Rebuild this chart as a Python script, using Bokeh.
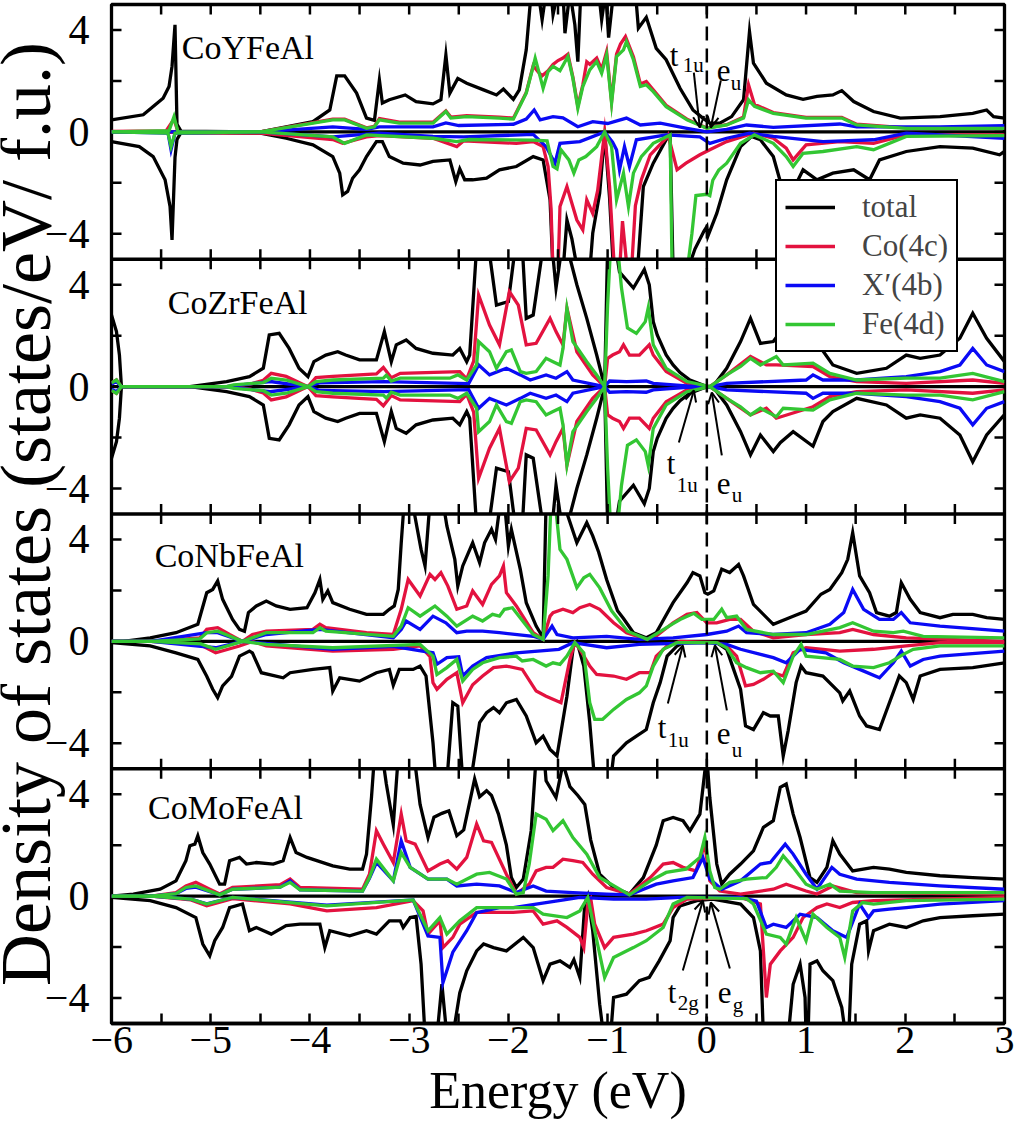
import numpy as np
from bokeh.plotting import figure
from bokeh.layouts import row
from bokeh.models import (FixedTicker, LinearAxis, Span, Legend, LegendItem,
                          Arrow, OpenHead)
from bokeh.core.properties import value
from bokeh.embed import file_html
from bokeh.resources import INLINE

# ---------------------------------------------------------------- data
COMPOUNDS = ["CoYFeAl", "CoZrFeAl", "CoNbFeAl", "CoMoFeAl"]
SERIES = ["total", "Co(4c)", "X\u2032(4b)", "Fe(4d)"]
COLORS = ["black", "#e3123f", "#0a0af5", "#33c633"]
ENERGY_TICKS = [-6, -5, -4, -3, -2, -1, 0, 1, 2, 3]
DOS_TICKS = [4, 0, -4]
DOS_MINOR = [2, -2]
Y_TITLE = "Density of states (states/eV/ f.u.)"
X_TITLE = "Energy (eV)"

# (energy eV, DOS) pairs; spin up positive, spin down negative
Y_TOT_UP = [(-6.0,0.47),(-5.68,0.67),(-5.58,1.0),(-5.48,1.32),(-5.42,1.78),(-5.39,2.57),(-5.36,4.2),(-5.34,0.3),(-5.3,0.03),(-4.5,0.0),(-4.24,0.2),(-3.97,0.4),(-3.8,0.86),(-3.73,2.2),(-3.65,2.2),(-3.53,1.52),(-3.43,0.54),(-3.35,0.45),(-3.30,2.04),(-3.27,1.13),(-3.2,1.26),(-3.04,1.45),(-2.93,1.19),(-2.76,1.1),(-2.68,1.26),(-2.63,3.02),(-2.59,1.52),(-2.51,2.1),(-2.42,1.91),(-2.25,1.65),(-2.12,1.45),(-2.05,1.68),(-1.95,1.28),(-1.89,1.65),(-1.82,3.22),(-1.77,5.5),(-1.70,5.5),(-1.66,4.4),(-1.62,5.5),(-1.57,5.5),(-1.55,4.6),(-1.50,5.5),(-1.45,5.5),(-1.43,3.87),(-1.38,5.5),(-1.33,4.2),(-1.30,2.76),(-1.27,5.5),(-1.09,5.5),(-1.06,4.4),(-1.02,5.5),(-0.99,3.7),(-0.94,5.5),(-0.72,5.5),(-0.69,4.07),(-0.61,4.5),(-0.51,3.28),(-0.41,2.83),(-0.27,1.71),(-0.14,0.86),(-0.04,0.54),(0.03,0.34),(0.13,0.34),(0.25,0.6),(0.37,1.26),(0.43,3.94),(0.47,2.7),(0.6,1.91),(0.8,1.45),(0.97,1.28),(1.11,1.39),(1.27,1.45),(1.36,1.62),(1.48,1.19),(1.68,0.8),(1.95,0.54),(2.35,0.6),(2.68,0.73),(2.82,0.86),(2.89,0.6),(3.0,0.54)]
Y_CO_UP = [(-6.0,0.02),(-5.45,0.04),(-5.37,0.5),(-5.33,0.0),(-4.5,0.0),(-3.77,0.5),(-3.65,0.5),(-3.43,0.16),(-3.35,0.22),(-3.3,0.52),(-3.1,0.38),(-2.76,0.38),(-2.63,0.82),(-2.58,0.58),(-2.42,0.64),(-2.09,0.58),(-1.95,0.54),(-1.82,1.55),(-1.75,2.6),(-1.7,2.35),(-1.66,2.2),(-1.6,2.4),(-1.55,2.65),(-1.5,2.8),(-1.45,2.9),(-1.4,3.05),(-1.35,2.15),(-1.3,1.0),(-1.25,1.85),(-1.21,2.75),(-1.18,2.65),(-1.11,2.9),(-1.06,2.45),(-1.01,3.15),(-0.96,1.2),(-0.91,3.05),(-0.87,3.45),(-0.82,3.74),(-0.78,3.35),(-0.74,2.95),(-0.67,1.88),(-0.61,1.98),(-0.54,1.65),(-0.41,1.04),(-0.2,0.5),(0.0,0.15),(0.2,0.28),(0.37,0.58),(0.42,1.85),(0.48,1.08),(0.67,0.76),(1.0,0.57),(1.36,0.57),(1.51,0.3),(2.01,0.16),(3.0,0.16)]
Y_X_UP = [(-6.0,0.0),(-4.5,0.0),(-3.77,0.2),(-3.43,0.1),(-3.3,0.2),(-2.76,0.2),(-2.63,0.35),(-2.5,0.25),(-1.95,0.3),(-1.82,0.5),(-1.74,0.86),(-1.68,0.47),(-1.55,0.6),(-1.45,0.55),(-1.3,0.2),(-1.15,0.4),(-1.0,0.33),(-0.81,0.54),(-0.67,0.27),(-0.47,0.34),(-0.2,0.14),(0.0,0.0),(0.2,0.1),(0.4,0.27),(0.67,0.18),(1.34,0.31),(1.51,0.2),(2.35,0.2),(3.0,0.24)]
Y_FE_UP = [(-6.0,0.0),(-5.42,0.05),(-5.37,0.6),(-5.33,0.0),(-4.5,0.0),(-3.77,0.47),(-3.65,0.47),(-3.43,0.14),(-3.35,0.2),(-3.3,0.47),(-3.1,0.34),(-2.76,0.34),(-2.63,0.8),(-2.58,0.54),(-2.42,0.6),(-2.09,0.54),(-1.95,0.5),(-1.82,1.52),(-1.75,2.57),(-1.73,2.89),(-1.68,2.17),(-1.65,1.71),(-1.6,2.37),(-1.55,2.57),(-1.48,2.4),(-1.4,2.96),(-1.35,2.1),(-1.3,0.93),(-1.25,1.78),(-1.18,2.43),(-1.11,2.76),(-1.06,2.3),(-1.01,3.02),(-0.96,1.13),(-0.91,2.96),(-0.84,3.22),(-0.81,3.55),(-0.74,2.83),(-0.67,1.78),(-0.61,1.85),(-0.54,1.58),(-0.41,0.99),(-0.2,0.47),(0.0,0.14),(0.2,0.27),(0.37,0.54),(0.42,1.26),(0.48,1.0),(0.67,0.73),(1.0,0.54),(1.36,0.54),(1.51,0.27),(2.01,0.14),(3.0,0.14)]
Y_TOT_DN = [(-6.0,-0.38),(-5.72,-0.58),(-5.58,-0.97),(-5.46,-1.88),(-5.41,-2.93),(-5.39,-4.24),(-5.36,-1.0),(-5.34,-0.3),(-5.3,-0.03),(-4.5,-0.05),(-4.24,-0.25),(-3.97,-0.51),(-3.77,-0.97),(-3.7,-1.62),(-3.67,-2.47),(-3.62,-2.34),(-3.57,-1.82),(-3.5,-1.49),(-3.43,-0.97),(-3.33,-0.38),(-3.27,-0.38),(-3.2,-0.97),(-3.06,-1.23),(-2.89,-1.3),(-2.76,-1.16),(-2.59,-1.1),(-2.53,-1.95),(-2.49,-1.45),(-2.44,-1.88),(-2.36,-1.88),(-2.22,-1.82),(-2.09,-1.49),(-1.92,-1.36),(-1.75,-0.97),(-1.65,-1.1),(-1.58,-2.67),(-1.55,-5.5),(-1.45,-5.5),(-1.41,-3.46),(-1.36,-4.2),(-1.3,-5.5),(-1.18,-5.5),(-1.15,-3.98),(-1.08,-2.41),(-1.03,-0.05),(-0.98,-2.6),(-0.94,-5.5),(-0.7,-5.5),(-0.64,-2.15),(-0.54,-1.23),(-0.41,-0.31),(-0.37,-0.12),(-0.34,-5.5),(-0.2,-5.5),(-0.12,-4.6),(-0.03,-3.9),(0.0,-3.72),(0.01,-4.1),(0.1,-3.2),(0.2,-1.88),(0.34,-0.58),(0.45,-0.18),(0.54,-0.31),(0.67,-0.97),(0.74,-1.95),(0.87,-2.28),(0.97,-1.49),(1.11,-1.88),(1.27,-1.62),(1.48,-1.49),(1.64,-1.88),(1.74,-1.1),(2.01,-0.77),(2.35,-0.58),(2.68,-0.64),(2.95,-0.9),(3.0,-0.77)]
Y_CO_DN = [(-6.0,0.0),(-4.5,-0.05),(-3.77,-0.3),(-3.67,-0.45),(-3.43,-0.2),(-3.3,-0.15),(-2.76,-0.25),(-2.52,-0.58),(-2.45,-0.35),(-1.92,-0.45),(-1.75,-0.38),(-1.65,-0.58),(-1.6,-1.36),(-1.57,-3.0),(-1.55,-5.5),(-1.5,-5.5),(-1.48,-2.93),(-1.41,-2.15),(-1.31,-3.46),(-1.25,-3.85),(-1.21,-2.67),(-1.15,-3.2),(-1.1,-2.3),(-1.03,0.0),(-0.98,-2.15),(-0.93,-5.5),(-0.88,-5.5),(-0.85,-3.5),(-0.8,-5.5),(-0.76,-5.5),(-0.72,-2.9),(-0.66,-1.88),(-0.57,-0.9),(-0.41,-0.25),(-0.39,-0.12),(-0.3,-1.49),(-0.21,-1.23),(-0.07,-0.9),(0.03,-0.7),(0.2,-0.38),(0.47,-0.05),(0.67,-0.25),(0.8,-0.64),(0.87,-1.1),(1.0,-0.51),(1.34,-0.38),(1.68,-0.45),(2.01,-0.12),(3.0,-0.12)]
Y_X_DN = [(-6.0,0.0),(-5.43,-0.05),(-5.4,-0.7),(-5.36,-0.05),(-4.5,0.0),(-3.77,-0.2),(-3.3,-0.05),(-2.76,-0.18),(-2.45,-0.2),(-1.75,-0.1),(-1.62,-0.58),(-1.53,-1.23),(-1.48,-0.45),(-1.28,-0.38),(-1.03,0.0),(-0.95,-0.4),(-0.91,-0.7),(-0.88,-1.49),(-0.83,-0.58),(-0.78,-1.36),(-0.71,-0.31),(-0.41,-0.12),(-0.07,-0.2),(0.03,-0.45),(0.2,-0.25),(0.43,-0.05),(0.67,-0.18),(1.17,-0.38),(1.68,-0.31),(2.01,-0.05),(3.0,-0.25)]
Y_FE_DN = [(-6.0,0.0),(-5.43,-0.05),(-5.4,-0.58),(-5.36,-0.05),(-4.5,0.0),(-3.77,-0.2),(-3.65,-0.45),(-3.43,-0.12),(-2.76,-0.25),(-2.52,-0.38),(-2.4,-0.3),(-1.75,-0.32),(-1.61,-0.35),(-1.55,-1.36),(-1.51,-1.45),(-1.47,-0.7),(-1.39,-1.1),(-1.34,-1.62),(-1.29,-1.1),(-1.22,-0.97),(-1.11,-0.58),(-1.03,0.0),(-0.96,-0.58),(-0.91,-2.67),(-0.84,-1.62),(-0.79,-2.93),(-0.74,-1.62),(-0.66,-0.97),(-0.54,-0.45),(-0.37,-0.12),(-0.35,-5.5),(-0.2,-5.5),(-0.15,-3.98),(-0.11,-2.5),(0.0,-2.45),(0.03,-2.5),(0.06,-1.9),(0.12,-1.5),(0.2,-1.23),(0.34,-0.45),(0.48,-0.12),(0.67,-0.45),(0.8,-0.97),(0.87,-1.36),(0.97,-0.84),(1.17,-0.77),(1.51,-0.58),(1.68,-0.7),(2.01,-0.18),(3.0,-0.15)]

ZR_TOT_UP = [(-6.0,2.81),(-5.95,2.16),(-5.92,1.24),(-5.9,0.0),(-5.21,0.0),(-4.84,0.2),(-4.61,0.39),(-4.47,0.72),(-4.41,2.03),(-4.31,2.09),(-4.21,1.5),(-4.11,0.72),(-4.02,0.39),(-3.96,0.98),(-3.84,1.24),(-3.72,1.37),(-3.64,1.24),(-3.5,1.05),(-3.33,1.05),(-3.25,2.16),(-3.18,0.98),(-3.13,1.64),(-3.03,1.83),(-2.93,1.5),(-2.76,1.31),(-2.56,1.24),(-2.49,1.5),(-2.42,0.98),(-2.39,1.24),(-2.32,5.5),(-2.2,5.5),(-2.12,3.2),(-2.0,3.34),(-1.93,5.5),(-1.86,5.5),(-1.82,2.68),(-1.75,2.81),(-1.65,5.5),(-1.56,5.5),(-1.52,3.87),(-1.46,5.5),(-1.41,5.5),(-1.31,4.0),(-1.21,2.68),(-1.11,1.24),(-1.03,0.0),(-1.0,5.5),(-0.92,5.5),(-0.88,4.5),(-0.74,3.87),(-0.63,4.6),(-0.58,4.0),(-0.54,2.55),(-0.5,2.03),(-0.41,1.24),(-0.34,0.85),(-0.27,0.55),(-0.17,0.26),(0.0,0.0),(0.06,0.0),(0.2,0.72),(0.34,1.77),(0.44,2.68),(0.54,1.7),(0.67,1.77),(0.75,2.2),(0.87,1.8),(1.07,2.3),(1.17,1.4),(1.27,0.85),(1.51,0.52),(1.81,0.72),(2.01,1.24),(2.15,1.11),(2.35,1.24),(2.55,1.9),(2.68,2.88),(2.82,1.9),(3.0,0.98)]
ZR_CO_UP = [(-6.0,0.15),(-5.95,0.26),(-5.9,0.0),(-4.84,0.0),(-4.6,0.1),(-4.47,0.25),(-4.39,0.52),(-4.24,0.4),(-4.02,0.0),(-3.94,0.35),(-3.77,0.4),(-3.33,0.5),(-3.26,0.75),(-3.18,0.35),(-3.09,0.52),(-2.49,0.59),(-2.42,0.3),(-2.35,1.0),(-2.3,3.6),(-2.19,2.42),(-2.09,1.64),(-1.99,3.73),(-1.9,3.2),(-1.82,1.64),(-1.72,1.7),(-1.58,2.68),(-1.52,2.16),(-1.45,1.64),(-1.41,3.08),(-1.31,1.37),(-1.15,0.46),(-1.03,0.0),(-1.0,1.11),(-0.95,1.24),(-0.88,1.37),(-0.84,1.64),(-0.78,1.24),(-0.68,1.24),(-0.58,1.64),(-0.54,1.24),(-0.41,0.59),(-0.2,0.13),(0.03,0.0),(0.2,0.46),(0.44,1.18),(0.6,0.85),(0.7,0.85),(1.07,0.79),(1.24,0.39),(1.51,0.2),(2.01,0.13),(2.68,0.26),(3.0,0.13)]
ZR_X_UP = [(-6.0,0.1),(-5.95,0.2),(-5.9,0.0),(-4.84,0.0),(-4.4,0.2),(-4.02,0.0),(-3.9,0.15),(-3.25,0.2),(-2.4,0.12),(-2.3,0.85),(-2.19,0.46),(-2.02,0.72),(-1.88,0.46),(-1.78,0.26),(-1.62,0.46),(-1.52,0.33),(-1.41,0.59),(-1.35,0.26),(-1.03,0.0),(-0.98,0.22),(-0.81,0.2),(-0.61,0.22),(-0.54,0.13),(-0.2,0.03),(0.03,0.0),(0.2,0.13),(1.0,0.26),(1.07,0.46),(1.17,0.26),(1.51,0.26),(2.01,0.39),(2.35,0.59),(2.55,0.85),(2.68,1.5),(2.82,0.85),(3.0,0.59)]
ZR_FE_UP = [(-6.0,0.15),(-5.95,0.26),(-5.9,0.0),(-4.84,0.0),(-4.77,0.07),(-4.47,0.16),(-4.39,0.33),(-4.24,0.26),(-4.02,0.0),(-3.94,0.2),(-3.77,0.26),(-3.26,0.33),(-3.23,0.45),(-3.18,0.22),(-3.09,0.33),(-2.59,0.33),(-2.51,0.46),(-2.42,0.26),(-2.32,0.85),(-2.3,1.77),(-2.19,1.37),(-2.12,0.72),(-2.02,1.37),(-1.97,1.44),(-1.88,0.59),(-1.82,0.52),(-1.72,0.59),(-1.62,1.11),(-1.55,0.98),(-1.48,0.85),(-1.45,1.5),(-1.41,3.08),(-1.35,1.77),(-1.21,0.98),(-1.11,0.46),(-1.03,0.0),(-1.0,3.2),(-0.97,5.5),(-0.9,5.5),(-0.86,3.87),(-0.8,2.3),(-0.71,2.09),(-0.62,2.55),(-0.59,3.1),(-0.54,1.64),(-0.41,0.72),(-0.2,0.2),(0.03,0.0),(0.2,0.46),(0.34,0.79),(0.44,1.11),(0.54,0.85),(0.7,1.18),(0.77,0.85),(1.07,0.92),(1.24,0.52),(1.51,0.26),(2.01,0.33),(2.35,0.33),(2.68,0.52),(3.0,0.2)]
ZR_TOT_DN = [(-6.0,-2.81),(-5.95,-2.16),(-5.92,-1.24),(-5.9,0.0),(-5.21,0.0),(-4.84,-0.2),(-4.61,-0.39),(-4.47,-0.72),(-4.41,-2.03),(-4.31,-2.09),(-4.21,-1.5),(-4.11,-0.72),(-4.02,-0.39),(-3.96,-0.98),(-3.84,-1.24),(-3.72,-1.37),(-3.64,-1.24),(-3.5,-1.05),(-3.33,-1.05),(-3.25,-2.16),(-3.18,-0.98),(-3.13,-1.64),(-3.03,-1.83),(-2.93,-1.5),(-2.76,-1.31),(-2.56,-1.24),(-2.49,-1.5),(-2.42,-0.98),(-2.39,-1.24),(-2.32,-5.5),(-2.2,-5.5),(-2.12,-3.2),(-2.0,-3.34),(-1.93,-5.5),(-1.86,-5.5),(-1.82,-2.68),(-1.75,-2.81),(-1.65,-5.5),(-1.56,-5.5),(-1.52,-3.87),(-1.46,-5.5),(-1.41,-5.5),(-1.31,-4.0),(-1.21,-2.68),(-1.11,-1.24),(-1.03,0.0),(-1.0,-5.5),(-0.92,-5.5),(-0.88,-4.5),(-0.74,-3.87),(-0.63,-4.6),(-0.58,-4.0),(-0.54,-2.55),(-0.5,-2.03),(-0.41,-1.24),(-0.34,-0.85),(-0.27,-0.55),(-0.17,-0.26),(0.0,0.0),(0.06,0.0),(0.2,-0.72),(0.34,-1.77),(0.44,-2.68),(0.54,-1.9),(0.67,-2.55),(0.74,-2.2),(0.87,-1.77),(1.07,-2.34),(1.17,-1.37),(1.27,-0.98),(1.51,-0.46),(1.81,-0.72),(2.01,-1.24),(2.15,-1.11),(2.35,-1.24),(2.55,-1.9),(2.68,-2.95),(2.82,-1.9),(3.0,-1.1)]
ZR_CO_DN = [(-6.0,-0.15),(-5.95,-0.26),(-5.9,0.0),(-4.84,0.0),(-4.6,-0.1),(-4.47,-0.25),(-4.39,-0.52),(-4.24,-0.4),(-4.02,0.0),(-3.94,-0.35),(-3.77,-0.4),(-3.33,-0.5),(-3.26,-0.75),(-3.18,-0.35),(-3.09,-0.52),(-2.49,-0.59),(-2.42,-0.3),(-2.35,-1.0),(-2.3,-3.6),(-2.19,-2.42),(-2.09,-1.64),(-1.99,-3.73),(-1.9,-3.2),(-1.82,-1.64),(-1.72,-1.7),(-1.58,-2.68),(-1.52,-2.16),(-1.45,-1.64),(-1.41,-3.08),(-1.31,-1.37),(-1.15,-0.46),(-1.03,0.0),(-1.0,-1.11),(-0.95,-1.24),(-0.88,-1.37),(-0.84,-1.64),(-0.78,-1.24),(-0.68,-1.24),(-0.58,-1.64),(-0.54,-1.24),(-0.41,-0.59),(-0.2,-0.13),(0.03,0.0),(0.2,-0.46),(0.44,-1.11),(0.6,-0.85),(0.7,-1.24),(1.07,-0.79),(1.24,-0.39),(1.51,-0.2),(2.01,-0.13),(2.68,-0.26),(3.0,-0.13)]
ZR_X_DN = [(-6.0,-0.1),(-5.95,-0.2),(-5.9,0.0),(-4.84,0.0),(-4.4,-0.2),(-4.02,0.0),(-3.9,-0.15),(-3.25,-0.2),(-2.4,-0.12),(-2.3,-0.85),(-2.19,-0.46),(-2.02,-0.72),(-1.88,-0.46),(-1.78,-0.26),(-1.62,-0.46),(-1.52,-0.33),(-1.41,-0.59),(-1.35,-0.26),(-1.03,0.0),(-0.98,-0.22),(-0.81,-0.2),(-0.61,-0.22),(-0.54,-0.13),(-0.2,-0.03),(0.03,0.0),(0.2,-0.13),(1.0,-0.26),(1.07,-0.46),(1.17,-0.26),(1.51,-0.26),(2.01,-0.39),(2.35,-0.59),(2.55,-0.85),(2.68,-1.5),(2.82,-0.85),(3.0,-0.59)]
ZR_FE_DN = [(-6.0,-0.15),(-5.95,-0.26),(-5.9,0.0),(-4.84,0.0),(-4.77,-0.07),(-4.47,-0.16),(-4.39,-0.33),(-4.24,-0.26),(-4.02,0.0),(-3.94,-0.2),(-3.77,-0.26),(-3.26,-0.33),(-3.23,-0.45),(-3.18,-0.22),(-3.09,-0.33),(-2.59,-0.33),(-2.51,-0.46),(-2.42,-0.26),(-2.32,-0.85),(-2.3,-1.77),(-2.19,-1.37),(-2.12,-0.72),(-2.02,-1.37),(-1.97,-1.44),(-1.88,-0.59),(-1.82,-0.52),(-1.72,-0.59),(-1.62,-1.11),(-1.55,-0.98),(-1.48,-0.85),(-1.45,-1.5),(-1.41,-3.08),(-1.35,-1.77),(-1.21,-0.98),(-1.11,-0.46),(-1.03,0.0),(-1.0,-3.2),(-0.97,-5.5),(-0.9,-5.5),(-0.86,-3.87),(-0.8,-2.3),(-0.71,-2.09),(-0.62,-2.55),(-0.59,-3.1),(-0.54,-1.64),(-0.41,-0.72),(-0.2,-0.2),(0.03,0.0),(0.2,-0.46),(0.34,-0.79),(0.44,-1.11),(0.54,-0.85),(0.7,-1.18),(0.77,-0.85),(1.07,-0.92),(1.24,-0.52),(1.51,-0.26),(2.01,-0.33),(2.35,-0.33),(2.68,-0.52),(3.0,-0.2)]

NB_TOT_UP = [(-6.0,0.0),(-5.88,0.0),(-5.61,0.14),(-5.35,0.34),(-5.13,0.67),(-5.04,1.91),(-4.98,2.04),(-4.93,2.37),(-4.88,1.65),(-4.78,0.86),(-4.71,0.47),(-4.66,0.4),(-4.62,1.13),(-4.54,1.39),(-4.44,1.58),(-4.34,1.39),(-4.2,1.26),(-4.03,1.32),(-3.95,1.91),(-3.9,2.43),(-3.87,1.65),(-3.82,1.98),(-3.77,1.52),(-3.6,1.26),(-3.43,1.06),(-3.26,1.06),(-3.2,1.26),(-3.15,1.39),(-3.11,2.04),(-3.08,3.87),(-3.05,5.5),(-2.97,5.5),(-2.88,3.61),(-2.84,2.96),(-2.79,5.5),(-2.66,5.5),(-2.62,4.53),(-2.54,3.22),(-2.51,2.17),(-2.46,2.96),(-2.36,3.87),(-2.29,3.09),(-2.24,3.87),(-2.17,4.4),(-2.13,4.0),(-2.08,5.5),(-2.04,5.5),(-2.0,3.74),(-1.97,4.4),(-1.88,2.83),(-1.82,1.52),(-1.72,0.6),(-1.65,0.14),(-1.62,5.5),(-1.45,5.5),(-1.31,3.87),(-1.21,4.66),(-1.15,4.14),(-1.09,3.5),(-1.01,2.43),(-0.9,1.2),(-0.84,0.9),(-0.74,0.34),(-0.61,0.14),(-0.51,0.34),(-0.34,1.52),(-0.2,2.3),(-0.14,2.7),(-0.07,2.57),(-0.02,1.91),(0.01,1.85),(0.07,1.98),(0.15,2.83),(0.23,2.7),(0.32,3.02),(0.37,2.57),(0.47,1.45),(0.67,0.67),(0.87,0.99),(1.0,1.19),(1.15,1.85),(1.24,2.04),(1.36,2.7),(1.42,3.22),(1.47,4.27),(1.54,2.57),(1.64,1.91),(1.71,1.13),(1.84,0.99),(1.91,1.13),(1.96,2.3),(2.05,1.65),(2.15,1.13),(2.35,0.93),(2.48,1.06),(2.68,1.06),(2.82,0.93),(3.0,0.86)]
NB_CO_UP = [(-6.0,0.0),(-5.6,0.0),(-5.11,0.14),(-5.04,0.47),(-4.93,0.54),(-4.81,0.27),(-4.68,0.0),(-4.58,0.27),(-4.44,0.4),(-3.97,0.47),(-3.9,0.67),(-3.84,0.54),(-3.43,0.34),(-3.16,0.27),(-3.08,1.26),(-3.01,2.43),(-2.89,1.78),(-2.79,2.63),(-2.74,2.43),(-2.68,2.7),(-2.61,2.17),(-2.52,1.26),(-2.42,1.39),(-2.36,1.98),(-2.26,1.45),(-2.17,2.24),(-2.09,2.57),(-2.05,2.96),(-2.02,1.91),(-1.92,1.39),(-1.75,0.34),(-1.65,0.08),(-1.58,0.99),(-1.55,1.13),(-1.45,1.26),(-1.35,1.13),(-1.28,1.32),(-1.18,1.45),(-1.08,1.26),(-0.94,0.73),(-0.81,0.34),(-0.61,0.08),(-0.51,0.21),(-0.34,0.73),(-0.2,1.06),(-0.1,1.13),(0.0,0.73),(0.1,0.73),(0.23,0.86),(0.34,0.86),(0.47,0.4),(0.67,0.14),(1.0,0.27),(1.34,0.34),(1.47,0.47),(1.68,0.27),(2.01,0.14),(3.0,0.0)]
NB_X_UP = [(-6.0,0.0),(-5.6,0.0),(-5.04,0.34),(-4.93,0.34),(-4.68,0.0),(-4.44,0.27),(-3.9,0.47),(-3.16,0.14),(-3.08,0.47),(-3.03,0.8),(-2.89,0.47),(-2.76,0.99),(-2.63,0.73),(-2.52,0.34),(-2.42,0.4),(-2.26,0.4),(-2.09,0.34),(-1.75,0.2),(-1.65,0.08),(-1.56,0.6),(-1.51,0.27),(-1.35,0.14),(-1.01,0.2),(-0.68,0.08),(-0.34,0.14),(0.0,0.27),(0.2,0.4),(0.32,0.6),(0.4,0.34),(0.67,0.27),(1.0,0.34),(1.24,0.67),(1.38,1.13),(1.47,2.04),(1.58,1.26),(1.74,0.86),(1.88,0.86),(1.96,1.13),(2.05,0.73),(2.35,0.6),(3.0,0.4)]
NB_FE_UP = [(-6.0,0.0),(-5.6,0.0),(-5.11,0.1),(-5.04,0.34),(-4.93,0.4),(-4.68,0.0),(-4.44,0.34),(-3.97,0.34),(-3.9,0.54),(-3.84,0.4),(-3.16,0.2),(-3.08,0.6),(-3.01,1.32),(-2.89,0.99),(-2.79,1.26),(-2.74,1.39),(-2.62,0.99),(-2.52,0.6),(-2.36,0.99),(-2.26,0.8),(-2.16,1.06),(-2.09,0.99),(-2.04,1.26),(-1.96,1.32),(-1.75,0.27),(-1.65,0.08),(-1.6,2.57),(-1.57,5.5),(-1.53,5.5),(-1.48,3.61),(-1.41,3.22),(-1.31,2.11),(-1.24,2.5),(-1.18,2.63),(-1.08,2.1),(-0.96,1.2),(-0.8,0.4),(-0.6,0.08),(-0.34,0.7),(-0.27,0.86),(-0.13,1.1),(-0.05,0.86),(0.07,0.86),(0.15,1.26),(0.2,0.93),(0.3,0.99),(0.4,0.47),(0.67,0.27),(1.0,0.27),(1.34,0.54),(1.47,0.73),(1.68,0.4),(1.88,0.34),(1.98,0.4),(2.18,0.2),(3.0,0.14)]
NB_TOT_DN = [(-6.0,-0.05),(-5.61,-0.18),(-5.35,-0.45),(-5.13,-0.71),(-5.04,-1.37),(-4.98,-1.88),(-4.93,-2.21),(-4.88,-1.75),(-4.79,-1.37),(-4.71,-0.58),(-4.61,-0.38),(-4.58,-0.45),(-4.49,-1.23),(-4.27,-1.43),(-4.2,-1.23),(-3.97,-1.1),(-3.8,-1.03),(-3.77,-1.95),(-3.7,-1.43),(-3.5,-1.56),(-3.33,-1.23),(-3.2,-1.1),(-3.16,-1.72),(-3.1,-1.1),(-2.96,-1.1),(-2.89,-0.97),(-2.83,-1.36),(-2.76,-3.98),(-2.73,-5.5),(-2.62,-5.5),(-2.56,-2.41),(-2.51,-2.54),(-2.46,-5.5),(-2.38,-5.5),(-2.29,-3.19),(-2.22,-2.8),(-2.15,-2.6),(-2.09,-2.8),(-2.02,-2.41),(-1.92,-2.28),(-1.82,-2.93),(-1.72,-3.98),(-1.65,-3.72),(-1.58,-4.24),(-1.51,-4.5),(-1.41,-2.15),(-1.34,-0.05),(-1.31,0.0),(-1.24,-0.97),(-1.18,-3.19),(-1.13,-5.5),(-0.97,-5.5),(-0.94,-4.5),(-0.81,-3.98),(-0.71,-3.72),(-0.61,-3.46),(-0.54,-2.41),(-0.47,-1.62),(-0.4,-0.58),(-0.3,-0.18),(-0.24,-0.05),(0.1,-0.05),(0.2,-0.31),(0.27,-1.1),(0.34,-1.88),(0.39,-3.32),(0.47,-3.46),(0.57,-2.8),(0.64,-2.93),(0.72,-2.93),(0.77,-4.5),(0.82,-3.5),(0.9,-1.62),(0.95,-0.97),(1.0,-1.23),(1.17,-1.36),(1.34,-2.02),(1.37,-2.34),(1.44,-1.95),(1.54,-2.93),(1.61,-3.32),(1.74,-3.46),(1.84,-2.41),(1.94,-1.36),(2.01,-1.62),(2.08,-2.28),(2.15,-1.36),(2.35,-1.1),(2.68,-1.03),(3.0,-0.84)]
NB_CO_DN = [(-6.0,0.0),(-5.6,0.0),(-5.11,-0.12),(-4.95,-0.45),(-4.71,-0.18),(-4.58,0.0),(-4.44,-0.18),(-3.77,-0.38),(-3.16,-0.31),(-2.89,-0.18),(-2.79,-0.6),(-2.76,-1.62),(-2.72,-1.88),(-2.62,-1.49),(-2.52,-1.23),(-2.46,-2.41),(-2.36,-1.7),(-2.26,-1.36),(-2.15,-1.03),(-2.02,-0.97),(-1.86,-1.1),(-1.72,-1.95),(-1.62,-2.15),(-1.47,-2.41),(-1.38,-0.71),(-1.33,-0.05),(-1.28,-0.31),(-1.18,-0.97),(-1.11,-1.3),(-0.94,-1.36),(-0.81,-1.49),(-0.68,-1.23),(-0.57,-1.23),(-0.51,-0.58),(-0.4,-0.18),(-0.27,0.0),(0.1,-0.05),(0.2,-0.18),(0.3,-0.58),(0.39,-1.75),(0.47,-1.69),(0.57,-1.49),(0.67,-1.23),(0.77,-1.36),(0.87,-0.45),(1.0,-0.25),(1.17,-0.31),(1.34,-0.38),(1.68,-0.31),(2.01,-0.18),(2.35,-0.05),(3.0,-0.05)]
NB_X_DN = [(-6.0,0.0),(-5.6,0.0),(-4.95,-0.25),(-4.68,0.0),(-3.77,-0.31),(-3.16,-0.2),(-2.76,-0.45),(-2.72,-0.9),(-2.62,-0.64),(-2.5,-0.6),(-2.46,-1.36),(-2.36,-0.97),(-2.22,-0.64),(-1.92,-0.45),(-1.49,-0.31),(-1.35,-0.05),(-1.01,-0.25),(-0.68,-0.12),(0.0,-0.05),(0.2,-0.12),(0.34,-0.31),(0.67,-0.64),(0.8,-0.84),(0.94,-0.31),(1.2,-0.45),(1.38,-0.84),(1.54,-1.1),(1.74,-1.43),(1.88,-0.84),(1.96,-0.38),(2.05,-0.97),(2.18,-0.71),(2.35,-0.58),(3.0,-0.38)]
NB_FE_DN = [(-6.0,0.0),(-5.6,0.0),(-5.1,-0.1),(-4.95,-0.31),(-4.68,0.0),(-4.44,-0.12),(-3.77,-0.25),(-2.89,-0.12),(-2.76,-0.58),(-2.72,-1.3),(-2.62,-1.03),(-2.52,-0.71),(-2.46,-1.56),(-2.36,-1.1),(-2.26,-0.84),(-2.09,-0.64),(-1.92,-0.58),(-1.86,-0.77),(-1.75,-0.71),(-1.62,-0.97),(-1.55,-0.84),(-1.48,-0.9),(-1.41,-0.58),(-1.33,-0.05),(-1.24,-0.45),(-1.18,-2.41),(-1.13,-3.06),(-1.05,-3.06),(-0.94,-2.67),(-0.81,-2.28),(-0.68,-2.02),(-0.61,-1.75),(-0.54,-0.97),(-0.44,-0.31),(-0.3,-0.05),(0.1,-0.05),(0.2,-0.25),(0.3,-0.84),(0.4,-1.03),(0.54,-1.23),(0.67,-1.17),(0.77,-1.62),(0.87,-0.58),(0.95,-0.12),(1.0,-0.58),(1.34,-0.71),(1.47,-0.97),(1.68,-1.03),(1.84,-0.84),(1.98,-0.51),(2.08,-0.31),(2.35,-0.18),(3.0,-0.18)]

MO_TOT_UP = [(-6.0,0.0),(-5.78,0.08),(-5.51,0.27),(-5.35,0.6),(-5.25,1.39),(-5.21,1.98),(-5.16,2.04),(-5.13,2.37),(-5.08,1.71),(-5.01,1.26),(-4.91,0.47),(-4.86,0.47),(-4.81,1.39),(-4.71,1.52),(-4.64,1.26),(-4.54,1.32),(-4.37,1.26),(-4.27,1.39),(-4.2,2.3),(-4.14,1.71),(-4.03,1.52),(-3.77,1.19),(-3.6,1.06),(-3.47,1.06),(-3.43,1.65),(-3.38,3.87),(-3.35,5.5),(-3.27,5.5),(-3.23,4.4),(-3.16,2.8),(-3.11,5.5),(-2.95,5.5),(-2.89,3.6),(-2.81,2.3),(-2.75,3.1),(-2.67,3.25),(-2.6,3.35),(-2.52,2.37),(-2.45,2.6),(-2.34,4.6),(-2.29,3.9),(-2.22,4.14),(-2.17,3.95),(-2.1,3.22),(-2.02,2.0),(-1.97,0.73),(-1.92,0.34),(-1.85,0.67),(-1.77,2.57),(-1.72,5.5),(-1.64,5.5),(-1.62,4.53),(-1.52,3.87),(-1.45,5.2),(-1.38,4.3),(-1.3,3.95),(-1.23,3.6),(-1.17,2.2),(-1.08,0.86),(-0.94,0.34),(-0.78,0.08),(-0.64,0.73),(-0.51,2.0),(-0.44,2.96),(-0.34,3.09),(-0.24,2.96),(-0.17,2.57),(-0.07,3.22),(-0.02,4.9),(0.0,5.5),(0.03,3.87),(0.1,1.26),(0.15,0.47),(0.23,0.86),(0.34,1.26),(0.47,1.78),(0.57,2.7),(0.67,2.96),(0.74,4.27),(0.8,4.4),(0.87,3.22),(0.94,2.3),(1.04,0.73),(1.11,0.54),(1.21,1.13),(1.27,2.17),(1.34,1.65),(1.47,0.99),(1.68,1.13),(1.84,1.06),(2.01,0.93),(2.35,0.8),(2.68,0.73),(3.0,0.67)]
MO_CO_UP = [(-6.0,0.0),(-5.6,0.0),(-5.35,0.14),(-5.25,0.4),(-5.15,0.54),(-5.01,0.27),(-4.91,0.08),(-4.78,0.34),(-4.3,0.45),(-4.2,0.67),(-4.1,0.34),(-3.47,0.27),(-3.4,0.86),(-3.33,2.57),(-3.26,2.04),(-3.16,1.32),(-3.08,3.22),(-3.03,2.17),(-2.94,2.04),(-2.81,0.99),(-2.69,1.26),(-2.61,1.39),(-2.52,1.06),(-2.42,1.52),(-2.32,2.83),(-2.25,2.17),(-2.17,2.11),(-2.02,0.86),(-1.92,0.08),(-1.79,0.47),(-1.72,0.99),(-1.62,1.13),(-1.55,1.13),(-1.45,1.45),(-1.35,1.39),(-1.25,1.32),(-1.15,0.86),(-1.01,0.34),(-0.78,0.08),(-0.57,0.73),(-0.44,1.26),(-0.34,1.32),(-0.24,1.13),(-0.11,0.99),(-0.02,2.04),(0.03,0.6),(0.13,0.2),(0.34,0.08),(0.67,0.27),(0.8,0.47),(1.0,0.2),(1.11,0.08),(1.27,0.4),(1.51,0.14),(3.0,0.08)]
MO_X_UP = [(-6.0,0.0),(-5.6,0.0),(-5.35,0.1),(-5.25,0.3),(-5.15,0.35),(-4.91,0.05),(-4.78,0.27),(-4.3,0.35),(-4.2,0.6),(-4.1,0.25),(-3.47,0.2),(-3.4,0.7),(-3.33,1.32),(-3.16,0.6),(-3.08,2.17),(-2.99,1.13),(-2.81,0.67),(-2.62,0.67),(-2.52,0.4),(-2.32,0.47),(-2.09,0.4),(-1.92,0.14),(-1.75,0.4),(-1.62,0.2),(-1.35,0.14),(-1.01,0.08),(-0.78,0.05),(-0.51,0.47),(-0.34,0.6),(-0.14,0.73),(-0.04,1.52),(0.03,0.67),(0.15,0.27),(0.34,0.6),(0.54,1.26),(0.64,1.32),(0.79,2.04),(0.87,1.65),(1.0,0.86),(1.11,0.27),(1.26,1.13),(1.34,0.86),(1.51,0.67),(1.84,0.54),(2.35,0.4),(3.0,0.27)]
MO_FE_UP = [(-6.0,0.0),(-5.6,0.0),(-5.35,0.1),(-5.25,0.34),(-5.15,0.4),(-4.91,0.05),(-4.78,0.27),(-4.3,0.35),(-4.2,0.54),(-4.1,0.25),(-3.47,0.2),(-3.4,0.73),(-3.33,1.45),(-3.16,0.6),(-3.08,1.71),(-2.99,1.13),(-2.81,0.67),(-2.62,0.67),(-2.52,0.47),(-2.32,0.86),(-2.19,0.93),(-2.02,0.67),(-1.92,0.08),(-1.85,0.14),(-1.79,1.26),(-1.72,3.22),(-1.62,3.02),(-1.55,2.57),(-1.45,2.96),(-1.35,2.3),(-1.21,1.65),(-1.08,0.73),(-0.78,0.05),(-0.57,0.6),(-0.41,0.93),(-0.21,1.06),(-0.07,1.52),(-0.02,2.3),(0.03,0.99),(0.08,0.34),(0.13,0.27),(0.23,0.54),(0.4,0.67),(0.6,0.73),(0.7,1.13),(0.77,1.58),(0.87,1.13),(1.0,0.47),(1.11,0.27),(1.24,0.47),(1.34,0.2),(1.68,0.14),(3.0,0.14)]
MO_TOT_DN = [(-6.0,-0.05),(-5.61,-0.18),(-5.35,-0.45),(-5.15,-0.84),(-5.08,-1.88),(-5.01,-2.34),(-4.96,-1.75),(-4.88,-1.23),(-4.81,-0.45),(-4.68,-0.31),(-4.61,-1.36),(-4.54,-1.23),(-4.39,-1.49),(-4.24,-1.16),(-4.1,-1.1),(-3.9,-1.1),(-3.85,-2.02),(-3.8,-1.36),(-3.6,-1.56),(-3.43,-1.36),(-3.33,-1.49),(-3.2,-0.97),(-3.09,-0.97),(-3.06,-1.23),(-2.99,-0.84),(-2.93,-0.8),(-2.88,-2.67),(-2.84,-5.5),(-2.72,-5.5),(-2.67,-3.46),(-2.62,-5.5),(-2.56,-5.5),(-2.49,-3.8),(-2.42,-2.93),(-2.32,-2.15),(-2.25,-1.88),(-2.15,-2.02),(-2.02,-2.15),(-1.85,-1.62),(-1.75,-2.02),(-1.65,-3.32),(-1.58,-2.67),(-1.48,-2.54),(-1.38,-2.8),(-1.34,-2.5),(-1.28,-3.19),(-1.23,-0.31),(-1.2,0.0),(-1.15,-1.36),(-1.08,-4.24),(-1.04,-5.5),(-0.97,-5.5),(-0.94,-3.98),(-0.81,-3.85),(-0.68,-3.32),(-0.58,-3.19),(-0.48,-2.54),(-0.37,-1.75),(-0.34,-0.84),(-0.27,-0.38),(-0.1,-0.18),(0.06,-0.12),(0.34,-0.31),(0.47,-0.84),(0.54,-2.15),(0.57,-5.5),(0.82,-5.5),(0.87,-3.46),(0.94,-2.67),(0.99,-3.98),(1.0,-5.5),(1.02,-5.5),(1.04,-2.67),(1.11,-2.54),(1.17,-2.93),(1.27,-3.32),(1.36,-4.37),(1.4,-5.5),(1.43,-5.5),(1.46,-2.67),(1.54,-1.1),(1.61,-0.97),(1.63,-2.15),(1.68,-1.36),(1.84,-1.1),(2.01,-1.23),(2.18,-0.97),(2.35,-0.84),(2.68,-0.77),(3.0,-0.71)]
MO_CO_DN = [(-6.0,0.0),(-5.6,0.0),(-5.2,-0.15),(-5.04,-0.38),(-4.78,-0.1),(-4.2,-0.3),(-3.83,-0.58),(-3.33,-0.45),(-2.96,-0.18),(-2.86,-0.58),(-2.81,-1.49),(-2.69,-0.97),(-2.66,-2.02),(-2.56,-1.62),(-2.49,-1.1),(-2.32,-0.64),(-1.95,-0.64),(-1.75,-0.58),(-1.65,-1.1),(-1.51,-0.97),(-1.41,-1.23),(-1.28,-1.62),(-1.24,-2.02),(-1.2,-0.31),(-1.17,-0.1),(-1.13,-1.1),(-1.03,-2.02),(-0.94,-1.62),(-0.74,-1.49),(-0.61,-1.36),(-0.44,-1.1),(-0.34,-0.45),(-0.2,-0.12),(0.34,-0.05),(0.54,-0.31),(0.6,-3.98),(0.64,-2.67),(0.74,-2.15),(0.87,-1.62),(0.97,-0.84),(1.11,-0.45),(1.21,-0.31),(1.34,-0.45),(1.47,-0.25),(1.68,-0.18),(3.0,-0.05)]
MO_X_DN = [(-6.0,0.0),(-5.6,0.0),(-5.2,-0.12),(-5.04,-0.3),(-4.78,-0.05),(-3.83,-0.35),(-2.96,-0.15),(-2.81,-1.56),(-2.69,-1.62),(-2.66,-3.4),(-2.56,-2.2),(-2.42,-1.36),(-2.32,-0.65),(-2.09,-0.45),(-1.95,-0.45),(-1.49,-0.18),(-1.28,-0.05),(-0.94,-0.12),(-0.61,-0.12),(-0.27,-0.05),(0.34,-0.05),(0.5,-0.2),(0.6,-1.23),(0.67,-1.1),(0.8,-1.23),(0.94,-0.71),(1.11,-0.84),(1.27,-1.36),(1.41,-1.62),(1.54,-0.31),(1.63,-0.84),(1.68,-0.58),(1.84,-0.51),(2.01,-0.45),(2.35,-0.31),(3.0,-0.18)]
MO_FE_DN = [(-6.0,0.0),(-5.6,0.0),(-5.2,-0.12),(-5.04,-0.31),(-4.78,-0.05),(-3.83,-0.38),(-2.96,-0.15),(-2.81,-1.36),(-2.69,-0.84),(-2.62,-1.49),(-2.49,-0.97),(-2.32,-0.45),(-1.75,-0.45),(-1.65,-0.71),(-1.41,-0.84),(-1.28,-0.58),(-1.2,-0.05),(-1.13,-1.36),(-1.03,-3.19),(-0.94,-2.41),(-0.74,-2.02),(-0.61,-1.75),(-0.44,-1.23),(-0.34,-0.31),(-0.2,-0.05),(0.4,-0.1),(0.47,-0.31),(0.6,-1.49),(0.74,-1.62),(0.8,-1.88),(0.9,-0.84),(1.0,-1.75),(1.07,-0.71),(1.21,-1.23),(1.34,-1.62),(1.39,-2.41),(1.47,-0.58),(1.57,-0.25),(1.68,-0.31),(2.01,-0.18),(3.0,-0.12)]

PANELS = [
    (COMPOUNDS[0], [Y_TOT_UP, Y_CO_UP, Y_X_UP, Y_FE_UP], [Y_TOT_DN, Y_CO_DN, Y_X_DN, Y_FE_DN]),
    (COMPOUNDS[1], [ZR_TOT_UP, ZR_CO_UP, ZR_X_UP, ZR_FE_UP], [ZR_TOT_DN, ZR_CO_DN, ZR_X_DN, ZR_FE_DN]),
    (COMPOUNDS[2], [NB_TOT_UP, NB_CO_UP, NB_X_UP, NB_FE_UP], [NB_TOT_DN, NB_CO_DN, NB_X_DN, NB_FE_DN]),
    (COMPOUNDS[3], [MO_TOT_UP, MO_CO_UP, MO_X_UP, MO_FE_UP], [MO_TOT_DN, MO_CO_DN, MO_X_DN, MO_FE_DN]),
]

# symmetry labels of the states bracketing the gap, per panel
GAP_LABELS = [("t", "1u", "e", "u"), ("t", "1u", "e", "u"), ("t", "1u", "e", "u"), ("t", "2g", "e", "g")]

# ---------------------------------------------------------------- layout
LIM = 5.0                      # each panel shows DOS in [-5, 5]
OFFSETS = [15.0, 5.0, -5.0, -15.0]
FONT = "Liberation Serif"
LW = 3.3
MINUS = "\u2212"


def fmt(v):
    return str(v) if v >= 0 else MINUS + str(-v)


def clip_curve(points, lim):
    """Clip a polyline to |y| <= lim, breaking it with NaN where it leaves."""
    xs, ys = [], []
    joined = False
    for (x0, y0), (x1, y1) in zip(points[:-1], points[1:]):
        dy = y1 - y0
        if dy == 0:
            if abs(y0) > lim:
                joined = False
                continue
            t0, t1 = 0.0, 1.0
        else:
            ta, tb = (-lim - y0) / dy, (lim - y0) / dy
            t0, t1 = max(0.0, min(ta, tb)), min(1.0, max(ta, tb))
            if t0 >= t1:
                joined = False
                continue
        if not (joined and t0 == 0.0):
            if xs:
                xs.append(np.nan)
                ys.append(np.nan)
            xs.append(x0 + t0 * (x1 - x0))
            ys.append(y0 + t0 * dy)
        xs.append(x0 + t1 * (x1 - x0))
        ys.append(y0 + t1 * dy)
        joined = t1 == 1.0
    return np.array(xs), np.array(ys)


p = figure(frame_width=893, frame_height=1019,
           min_border_left=21, min_border_right=15,
           min_border_top=4, min_border_bottom=115,
           x_range=(-6, 3), y_range=(-20, 20),
           x_axis_location=None, y_axis_location=None,
           output_backend="svg", toolbar_location=None)
p.grid.visible = False
p.outline_line_color = "black"
p.outline_line_width = LW
p.background_fill_color = "white"
p.border_fill_color = "white"

# y ticks: 4, 0, -4 labelled in every panel, 2 and -2 as minor ticks
y_major, y_minor, y_text = [], [], []
for off in OFFSETS:
    for t in DOS_TICKS:
        y_major.append(off + t)
        y_text.append(fmt(t))
    for t in DOS_MINOR:
        y_minor.append(off + t)
x_minor = [e + 0.5 for e in ENERGY_TICKS[:-1]]

bottom = LinearAxis(ticker=FixedTicker(ticks=ENERGY_TICKS, minor_ticks=x_minor),
                    major_label_overrides={e: fmt(e) for e in ENERGY_TICKS},
                    axis_label=X_TITLE)
bottom.axis_line_width = LW
bottom.major_tick_in = 10
bottom.major_tick_out = 0
bottom.minor_tick_in = 10
bottom.minor_tick_out = 0
bottom.major_tick_line_width = 2.5
bottom.minor_tick_line_width = 2.5
bottom.major_label_text_font = FONT
bottom.major_label_text_font_size = "40px"
bottom.major_label_text_color = "black"
bottom.major_label_standoff = 3
bottom.axis_label_text_font = FONT
bottom.axis_label_text_font_size = "52px"
bottom.axis_label_text_font_style = "normal"
bottom.axis_label_text_color = "black"
bottom.axis_label_standoff = 6
p.add_layout(bottom, "below")

# inward ticks on the left, right and top edges and on the panel separators
px_x = 9.0 / 893       # data units per pixel, horizontally
px_y = 40.0 / 1019     # data units per pixel, vertically
tick_len = 10
ys_all = y_major + y_minor
p.segment(x0=[-6] * len(ys_all), y0=ys_all, x1=[-6 + tick_len * px_x] * len(ys_all), y1=ys_all,
          line_color="black", line_width=2.5)
p.segment(x0=[3] * len(ys_all), y0=ys_all, x1=[3 - tick_len * px_x] * len(ys_all), y1=ys_all,
          line_color="black", line_width=2.5)
inner_x = [e for e in sorted(ENERGY_TICKS + x_minor) if -6 < e < 3]
p.segment(x0=inner_x, y0=[20] * len(inner_x), x1=inner_x, y1=[20 - tick_len * px_y] * len(inner_x),
          line_color="black", line_width=2.5)

# zero line of every panel, beneath the curves
for off in OFFSETS:
    p.add_layout(Span(location=off, dimension="width", line_color="black",
                      line_width=LW, level="underlay"))

# curves: total, Co, X', Fe; spin up and spin down
legend_renderers = []
for pi, (name, ups, dns) in enumerate(PANELS):
    off = OFFSETS[pi]
    for si in range(4):
        for ci, curve in enumerate((ups[si], dns[si])):
            xs, ys = clip_curve(curve, LIM)
            r = p.line(xs, ys + off, line_color=COLORS[si], line_width=LW,
                       line_join="miter")
            if pi == 0 and ci == 0:
                legend_renderers.append(r)

for b in (10.0, 0.0, -10.0):
    p.add_layout(Span(location=b, dimension="width", line_color="black", line_width=LW))
    p.segment(x0=inner_x, y0=[b] * len(inner_x), x1=inner_x,
              y1=[b + tick_len * px_y] * len(inner_x), line_color="black", line_width=2.5)
    p.segment(x0=inner_x, y0=[b] * len(inner_x), x1=inner_x,
              y1=[b - tick_len * px_y] * len(inner_x), line_color="black", line_width=2.5)

# Fermi level
p.add_layout(Span(location=0, dimension="height", line_color="black",
                  line_width=2.5, line_dash="14 8"))

# compound names
p.text(x=[-5.292, -5.433, -5.565, -5.632], y=[18.31, 8.31, -1.63, -11.51],
       text=COMPOUNDS, text_font=value(FONT), text_font_size="34px",
       text_baseline="alphabetic", text_align="left", text_color="black")

# gap-edge labels (letter + subscript) and their arrows
main_x = [(-0.373, 0.101), (-0.403, 0.101), (-0.494, 0.101), (-0.393, 0.111)]
main_y = [(18.0, 17.41), (1.98, 1.20), (-8.38, -8.62), (-18.78, -18.78)]
sub_x = [(-0.242, 0.242), (-0.302, 0.252), (-0.393, 0.252), (-0.292, 0.262)]
sub_y = [(17.61, 16.90), (1.12, 0.73), (-8.89, -9.28), (-19.21, -19.29)]
arrows = [
    [(-0.131, 17.33, -0.071, 15.17), (0.141, 17.02, 0.040, 15.17)],
    [(-0.282, 2.81, -0.131, 4.85), (0.151, 2.30, 0.050, 4.77)],
    [(-0.393, -7.44, -0.242, -5.16), (0.202, -7.71, 0.081, -5.16)],
    [(-0.242, -17.92, -0.040, -15.17), (0.232, -17.84, 0.040, -15.25)],
]
mx, my, mt, sx, sy, st = [], [], [], [], [], []
for i, (a, asub, b, bsub) in enumerate(GAP_LABELS):
    mx += list(main_x[i]); my += list(main_y[i]); mt += [a, b]
    sx += list(sub_x[i]); sy += list(sub_y[i]); st += [asub, bsub]
    for (x0, y0, x1, y1) in arrows[i]:
        p.add_layout(Arrow(end=OpenHead(size=11, line_width=2, line_color="black"),
                           x_start=x0, y_start=y0, x_end=x1, y_end=y1,
                           line_width=2, line_color="black"))
p.text(x=mx, y=my, text=mt, text_font=value(FONT), text_font_size="31px",
       text_baseline="alphabetic", text_align="left", text_color="black")
p.text(x=sx, y=sy, text=st, text_font=value(FONT), text_font_size="21px",
       text_baseline="alphabetic", text_align="left", text_color="black")

legend = Legend(items=[LegendItem(label=s, renderers=[r]) for s, r in zip(SERIES, legend_renderers)],
                location=(664, 671), orientation="vertical",
                border_line_color="black", border_line_width=2, border_line_alpha=1,
                background_fill_color="white", background_fill_alpha=1,
                label_text_font=FONT, label_text_font_size="31px",
                glyph_width=50, glyph_height=36, label_height=36,
                label_standoff=27, padding=8, spacing=3, margin=0)
p.add_layout(legend)

# left strip: the DOS tick labels and the vertical title, on the same y scale
side = figure(width=90, height=1138, x_range=(0, 90), y_range=p.y_range,
              min_border_left=0, min_border_right=0,
              min_border_top=4, min_border_bottom=115,
              x_axis_location=None, y_axis_location=None,
              output_backend="svg", toolbar_location=None)
side.grid.visible = False
side.outline_line_color = None
side.border_fill_color = "white"
side.text(x=[89] * len(y_major), y=y_major, text=y_text, text_font=value(FONT),
          text_font_size="42px", text_align="right", text_baseline="middle",
          text_color="black")
side.text(x=[25], y=[0], text=[Y_TITLE], angle=np.pi / 2, text_font=value(FONT),
          text_font_size="72px", text_align="center", text_baseline="alphabetic",
          text_color="black")

layout = row(side, p, spacing=0)
open("out.html", "w").write(file_html(layout, INLINE))
